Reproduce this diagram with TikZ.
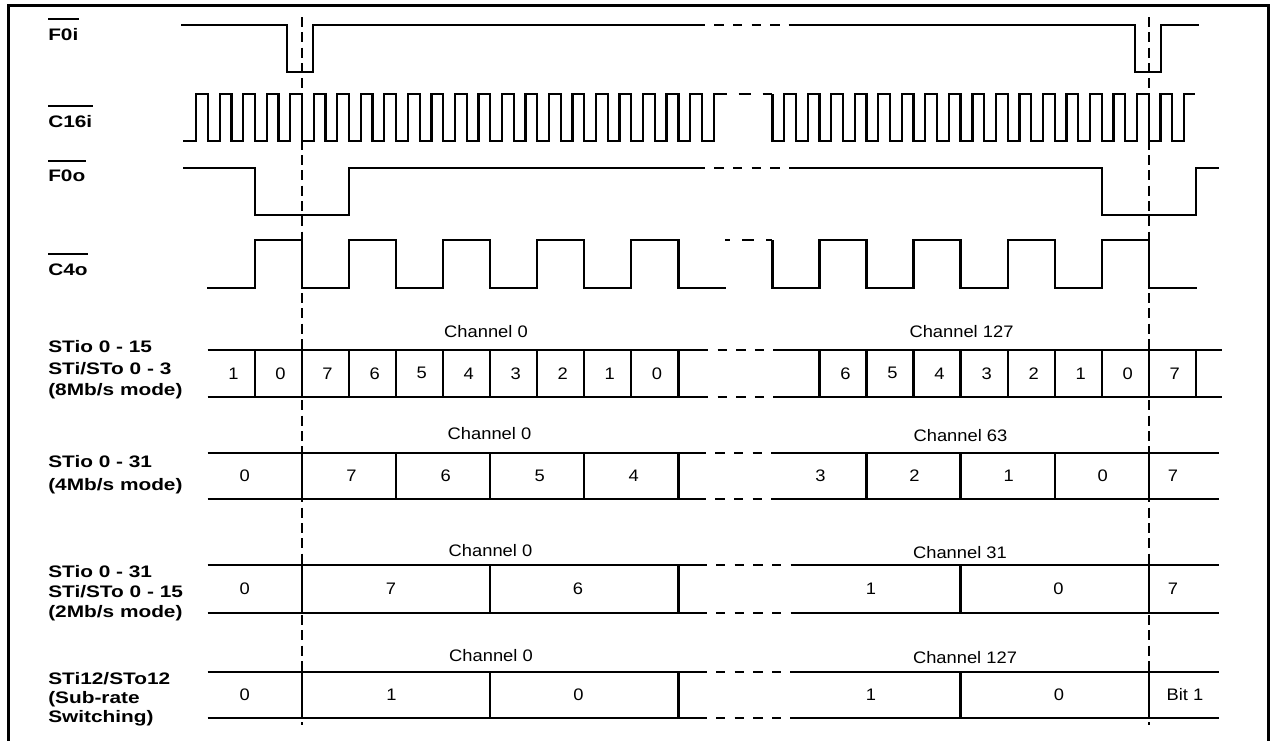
\documentclass[tikz,border=0pt]{standalone}
\usepackage{fontspec}
\setmainfont[FakeStretch=1.1]{Liberation Sans}
\newfontfamily\lblfont[FakeStretch=1.25]{Liberation Sans}

% time grid: edge of C4o and half period of C16i
\def\tz{255}
\def\qq{11.76}

\begin{document}
\begin{tikzpicture}[
		x=0.75pt, y=-0.75pt,
		font=\fontsize{12.5}{15}\selectfont,
		% style for waveforms and slot lines
		wave/.style={line width=1.7pt, line join=miter},
		% broken part of a line
		gapdash/.style={line width=1.7pt, dash pattern=on 7pt off 7pt, dash phase=7pt},
		clkdash/.style={line width=1.7pt, dash pattern=on 9pt off 9pt, dash phase=#1},
		clkdash/.default=9pt,
		% frame boundary markers
		framemark/.style={line width=1.7pt, dash pattern=on 7.5pt off 4pt},
		% signal names on the left
		siglabel/.style={inner sep=0pt, anchor=north west, align=left,
			font=\lblfont\bfseries\fontsize{12.5}{15.5}\selectfont},
		bitlabel/.style={inner sep=0pt, anchor=center},
		chlabel/.style={inner sep=0pt, anchor=base}
	]
	\useasboundingbox (0,0) rectangle (1273,740);
	
	% --- OUTER FRAME ---
	\draw[line width=2.25pt] (8.3,760) -- (8.3,5.3) -- (1268.3,5.3) -- (1268.3,760);
	
	% --- SIGNAL NAMES ---
	\node[siglabel] (f0i) at (48,28.3) {F0i};
	\node[siglabel] (c16i) at (48,115) {C16i};
	\node[siglabel] (f0o) at (48,170) {F0o};
	\node[siglabel] (c4o) at (48,263.3) {C4o};
	\foreach \n in {f0i,c16i,f0o,c4o}
		\draw[line width=1.5pt] ([yshift=7.1pt]\n.north west) -- ([yshift=7.1pt]\n.north east);
	
	\node[siglabel] (st8) at (48,340) {STio 0 - 15\\[0.8pt]STi/STo 0 - 3\\[0.8pt](8Mb/s mode)};
	\node[siglabel] (st4) at (48,455) {STio 0 - 31\\[2pt](4Mb/s mode)};
	\node[siglabel] (st2) at (48,565) {STio 0 - 31\\[-0.5pt]STi/STo 0 - 15\\[-0.5pt](2Mb/s mode)};
	\node[siglabel] (st12) at (48,671.7) {STi12/STo12\\[-0.9pt](Sub-rate\\[-0.9pt]Switching)};
	
	% --- F0i ---
	\draw[wave] (181,25) -- (287,25) -- (287,72) -- (313,72) -- (313,25) -- (705,25);
	\draw[gapdash] (705,25) -- (788.6,25);
	\draw[wave] (788.6,25) -- (1135,25) -- (1135,72) -- (1161,72) -- (1161,25) -- (1199,25);
	
	% --- C16i ---
	\draw[wave] (183,141) \foreach \k in {-3,...,18} {
		-- ({\tz+(2*(\k)+1)*\qq},141) -- ({\tz+(2*(\k)+1)*\qq},94)
		-- ({\tz+(2*(\k)+2)*\qq},94) -- ({\tz+(2*(\k)+2)*\qq},141) }
		-- ({\tz+39*\qq},141) -- ({\tz+39*\qq},94) -- (726.7,94);
	\draw[clkdash] (726.7,94) -- ({\tz+44*\qq},94);
	\draw[wave] ({\tz+44*\qq},94) -- ({\tz+44*\qq},141) \foreach \k in {22,...,38} {
		-- ({\tz+(2*\k+1)*\qq},141) -- ({\tz+(2*\k+1)*\qq},94)
		-- ({\tz+(2*\k+2)*\qq},94) -- ({\tz+(2*\k+2)*\qq},141) }
		-- ({\tz+79*\qq},141) -- ({\tz+79*\qq},94) -- (1195,94);
	
	% --- F0o ---
	\draw[wave] (183,168) -- (\tz,168) -- (\tz,215) -- ({\tz+8*\qq},215) -- ({\tz+8*\qq},168) -- (705,168);
	\draw[gapdash] (705,168) -- (790,168);
	\draw[wave] (790,168) -- ({\tz+72*\qq},168) -- ({\tz+72*\qq},215) -- ({\tz+80*\qq},215) -- ({\tz+80*\qq},168) -- (1219,168);
	
	% --- C4o ---
	\draw[wave] (207,287.7) \foreach \k in {0,...,4} {
		-- ({\tz+8*\k*\qq},287.7) -- ({\tz+8*\k*\qq},240)
		-- ({\tz+(8*\k+4)*\qq},240) -- ({\tz+(8*\k+4)*\qq},287.7) } -- (726,287.7);
	\draw[clkdash=5.25pt] (725,240) -- ({\tz+44*\qq},240);
	\draw[wave] ({\tz+44*\qq},240) -- ({\tz+44*\qq},287.7) \foreach \k in {6,...,9} {
		-- ({\tz+8*\k*\qq},287.7) -- ({\tz+8*\k*\qq},240)
		-- ({\tz+(8*\k+4)*\qq},240) -- ({\tz+(8*\k+4)*\qq},287.7) } -- (1196.7,287.7);
	
	% --- SLOT LINES (top, bottom, break) ---
	\foreach \yt/\yb/\xa/\xb/\xc in {350/396.7/708.3/773.3/1221.7, 452.7/499/706/771.7/1219.3,
		565/612.7/706.7/791.7/1219.3, 671.7/718.3/706.7/790/1219.3} {
		\draw[wave] (207.5,\yt) -- (\xa,\yt) (207.5,\yb) -- (\xa,\yb);
		\draw[gapdash] (\xa,\yt) -- (\xb,\yt) (\xa,\yb) -- (\xb,\yb);
		\draw[wave] (\xb,\yt) -- (\xc,\yt) (\xb,\yb) -- (\xc,\yb);
	}
	
	% --- SLOT DIVIDERS ---
	% 8Mb/s
	\foreach \k in {0,4,8,12,16,20,24,28,32,36,48,52,56,60,64,68,72,76,80}
		\draw[wave] ({\tz+\k*\qq},350) -- ({\tz+\k*\qq},396.7);
	% 4Mb/s
	\foreach \k in {4,12,20,28,36,52,60,68,76}
		\draw[wave] ({\tz+\k*\qq},452.7) -- ({\tz+\k*\qq},499);
	% 2Mb/s
	\foreach \k in {4,20,36,60,76}
		\draw[wave] ({\tz+\k*\qq},565) -- ({\tz+\k*\qq},612.7);
	% sub-rate
	\foreach \k in {4,20,36,60,76}
		\draw[wave] ({\tz+\k*\qq},671.7) -- ({\tz+\k*\qq},718.3);
	
	% --- FRAME BOUNDARY MARKERS ---
	\draw[framemark] ({\tz+4*\qq},17) -- ({\tz+4*\qq},725);
	\draw[framemark] ({\tz+76*\qq},17) -- ({\tz+76*\qq},725);
	
	% --- BIT NUMBERS ---
	% 8Mb/s
	\foreach \t [count=\i from 0] in {1,0,7,6,5,4,3,2,1,0}
		\node[bitlabel] (ba\i) at ({\tz+(4*\i-2)*\qq+2},373.3) {\t};
	\foreach \t [count=\i from 0] in {6,5,4,3,2,1,0,7}
		\node[bitlabel] (bb\i) at ({\tz+(50+4*\i)*\qq+2.5},373.3) {\t};
	% 4Mb/s
	\node[bitlabel] (bc) at (244.7,475.8) {0};
	\foreach \t [count=\i from 0] in {7,6,5,4}
		\node[bitlabel] (bd\i) at ({\tz+(8+8*\i)*\qq+2.5},475.8) {\t};
	\foreach \t [count=\i from 0] in {3,2,1,0}
		\node[bitlabel] (be\i) at ({\tz+(48+8*\i)*\qq+1},475.8) {\t};
	\node[bitlabel] (bf) at (1173,475.8) {7};
	% 2Mb/s
	\foreach \x/\t [count=\i] in {244.7/0, 391/7, 578/6, 871/1, 1058.5/0, 1173/7}
		\node[bitlabel] (bg\i) at (\x,588.8) {\t};
	% sub-rate
	\foreach \x/\t [count=\i] in {244.7/0, 391.5/1, 578.5/0, 871/1, 1059/0, 1185/Bit 1}
		\node[bitlabel] (bh\i) at (\x,695) {\t};
	
	% --- CHANNEL TITLES ---
	\foreach \x/\y/\t [count=\i] in {486/337/Channel 0, 961.5/337.3/Channel 127,
		489.5/439.3/Channel 0, 960.5/441.7/Channel 63,
		490.5/556.7/Channel 0, 960/558.3/Channel 31,
		491/661.7/Channel 0, 965/663.3/Channel 127}
		\node[chlabel] (ch\i) at (\x,\y) {\t};
	
\end{tikzpicture}
\end{document}
